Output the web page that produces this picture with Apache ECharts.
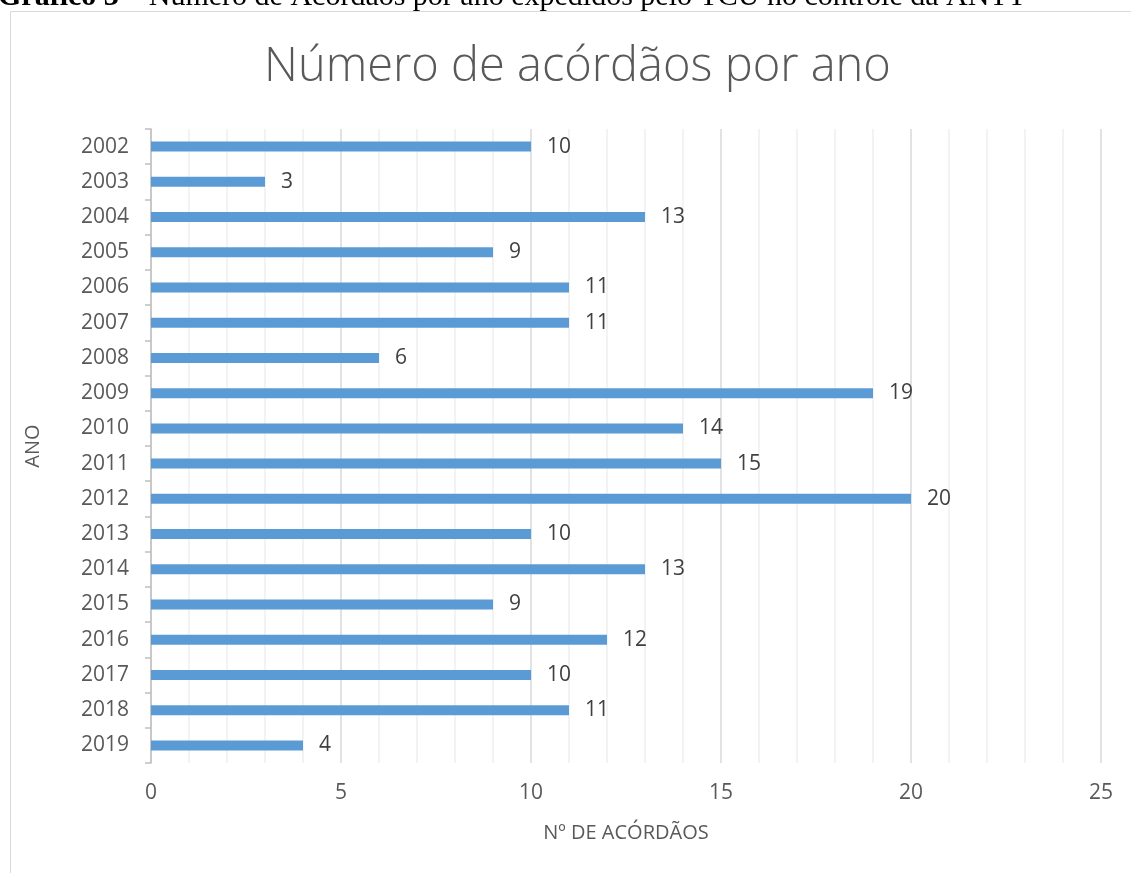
<!DOCTYPE html>
<html>
<head>
<meta charset="utf-8">
<script src="https://cdn.jsdelivr.net/npm/echarts@6/dist/echarts.min.js"></script>
<style>
  html, body { margin: 0; padding: 0; background: #ffffff; }
  #chart { width: 1131px; height: 873px; }
</style>
</head>
<body>
<div id="chart"></div>
<script>
// Acórdãos expedidos por ano
const anos = ['2002','2003','2004','2005','2006','2007','2008','2009','2010','2011','2012','2013','2014','2015','2016','2017','2018','2019'];
const acordaos = [10, 3, 13, 9, 11, 11, 6, 19, 14, 15, 20, 10, 13, 9, 12, 10, 11, 4];
const escalaX = { min: 0, max: 25, interval: 5 };

const textColor = '#595959';
const fontFamily = '"Open Sans", "Noto Sans", sans-serif';

const chart = echarts.init(document.getElementById('chart'));
chart.setOption({
  animation: false,
  backgroundColor: '#ffffff',
  title: {
    text: 'Número de acórdãos por ano',
    left: 259,
    top: 39,
    textStyle: { fontFamily: fontFamily, fontWeight: 300, fontSize: 47, color: textColor }
  },
  graphic: [
    {
      type: 'rect',
      shape: { x: 10.5, y: 11.5, width: 1200, height: 900 },
      style: { fill: 'none', stroke: '#d9d9d9', lineWidth: 1 },
      silent: true
    },
    {
      type: 'text',
      x: -2,
      y: 12,
      style: {
        text: '{b|Gráfico 3 –} Número de Acórdãos por ano expedidos pelo TCU no controle da ANTT',
        font: '30px "Liberation Serif", serif',
        fill: '#000000',
        verticalAlign: 'bottom',
        rich: {
          b: { fontFamily: '"Liberation Serif", serif', fontWeight: 'bold', fontSize: 30, fill: '#000000' }
        }
      },
      silent: true
    }
  ],
  grid: { left: 151, right: 30, top: 129, bottom: 110, containLabel: false },
  xAxis: {
    type: 'value',
    min: escalaX.min,
    max: escalaX.max,
    interval: escalaX.interval,
    name: 'Nº DE ACÓRDÃOS',
    nameLocation: 'middle',
    nameGap: 60,
    nameTextStyle: { fontFamily: fontFamily, fontSize: 20, color: textColor },
    axisLine: { show: false },
    axisTick: { show: false },
    axisLabel: { margin: 20, fontFamily: fontFamily, fontSize: 21, color: textColor },
    splitLine: { show: true, lineStyle: { color: '#d9d9d9', width: 1.5 } },
    minorTick: { show: false, splitNumber: 5 },
    minorSplitLine: { show: true, lineStyle: { color: '#f0f0f0', width: 1.5 } }
  },
  yAxis: {
    type: 'category',
    data: anos,
    inverse: true,
    name: 'ANO',
    nameLocation: 'middle',
    nameGap: 108,
    nameRotate: 90,
    nameTextStyle: { fontFamily: fontFamily, fontSize: 20, color: textColor },
    axisLine: { show: true, lineStyle: { color: '#bfbfbf', width: 1.5 } },
    axisTick: { show: true, length: 6, lineStyle: { color: '#bfbfbf', width: 1.5 } },
    axisLabel: { margin: 22, fontFamily: fontFamily, fontSize: 21, color: textColor },
    splitLine: { show: false }
  },
  series: [{
    type: 'bar',
    data: acordaos,
    barWidth: 10,
    itemStyle: { color: '#5b9bd5' },
    label: {
      show: true,
      position: 'right',
      distance: 16,
      fontFamily: fontFamily,
      fontSize: 21,
      color: '#404040'
    }
  }]
});
</script>
</body>
</html>
